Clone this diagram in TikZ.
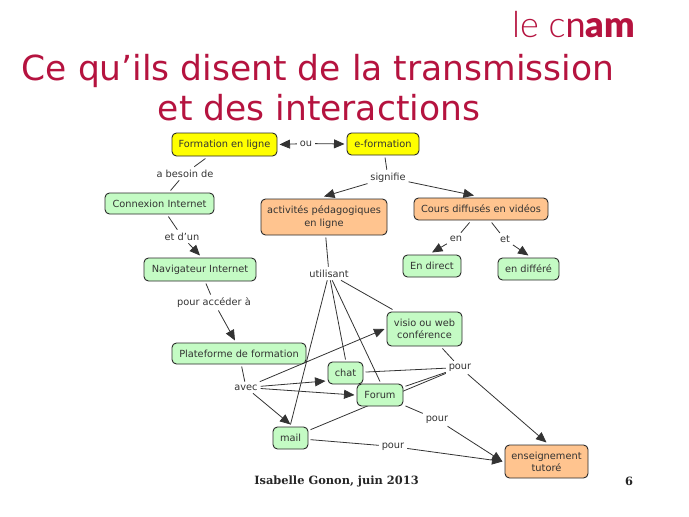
\documentclass[tikz,border=0pt]{standalone}
\usepackage{fontspec}
\setmainfont{DejaVu Sans}
\newfontfamily\footfont{DejaVu Serif}
\newfontfamily\logofont{Lato}
\newfontfamily\logolight{Lato Light}
\newfontfamily\logoblack{Lato Black}
\usetikzlibrary{arrows.meta,calc}
\pgfdeclarelayer{edges}
\pgfsetlayers{edges,main}
\definecolor{cnam}{HTML}{B5133F}
\definecolor{ink}{HTML}{333333}
\definecolor{cyel}{HTML}{FFFF00}
\definecolor{cgrn}{HTML}{C4FBC4}
\definecolor{corg}{HTML}{FFC48F}
\tikzset{
  cbox/.style 2 args={draw=ink!80!black,line width=0.9pt,rounded corners=4.5pt,minimum width=#1,minimum height=#2,inner sep=0pt,outer sep=2.5pt,align=center,font=\fontsize{9.8}{12.2}\selectfont,text=ink},
  yel/.style={fill=cyel},grn/.style={fill=cgrn},org/.style={fill=corg},
  lab/.style={inner sep=1.5pt,outer sep=1.5pt,font=\fontsize{9.8}{11}\selectfont,text=ink},
  plain/.style={draw=ink,line width=0.8pt},
  arr/.style={draw=ink,line width=0.8pt,-{Triangle[length=10.5pt,width=9pt]}},
  titletext/.style={inner sep=0pt,text=cnam,font=\fontsize{34.5}{34.5}\selectfont},
  foot/.style={inner sep=0pt,font=\footfont\bfseries\fontsize{11.4}{13}\selectfont,text=black!85}
}
\begin{document}
\begin{tikzpicture}[x=1pt,y=-1pt]
\useasboundingbox (0,0) rectangle (689,517);
% logo and title
\node[inner sep=0pt,anchor=base west,text=cnam,font=\fontsize{36}{36}\selectfont] (logo) at (512,37) {{\logolight le c}{\logofont n}{\logoblack am}};
\node[titletext,anchor=base] (t1) at (318,80) {Ce qu’ils disent de la transmission};
\node[titletext,anchor=base] (t2) at (319,120) {et des interactions};
% concepts
\node[cbox={105pt}{23pt},yel] (fl) at (224.5,144.5) {Formation en ligne};
\node[cbox={72pt}{22pt},yel] (ef) at (383,144) {e-formation};
\node[cbox={109pt}{21pt},grn] (ci) at (159.5,203.5) {Connexion Internet};
\node[cbox={112pt}{23pt},grn] (ni) at (200,269.5) {Navigateur Internet};
\node[cbox={126pt}{36pt},org] (ap) at (324,217) {activités pédagogiques\\en ligne};
\node[cbox={134pt}{22pt},org] (cd) at (481,209) {Cours diffusés en vidéos};
\node[cbox={58pt}{22pt},grn] (ed) at (432,266) {En direct};
\node[cbox={61pt}{22pt},grn] (ediff) at (528.5,269) {en différé};
\node[cbox={134pt}{21pt},grn] (pf) at (239,353.5) {Plateforme de formation};
\node[cbox={35pt}{22pt},grn] (chat) at (345.5,373) {chat};
\node[cbox={46pt}{22pt},grn] (forum) at (380,395) {Forum};
\node[cbox={35pt}{22pt},grn] (mail) at (290.5,438) {mail};
\node[cbox={75pt}{34pt},grn] (visio) at (424.5,329) {visio ou web\\conférence};
\node[cbox={83pt}{33pt},org] (ens) at (546.5,461.5) {enseignement\\tutoré};
% link labels
\node[lab] (ou) at (306,143.5) {ou};
\node[lab] (besoin) at (185,173.5) {a besoin de};
\node[lab] (etdun) at (182,236.5) {et d'un};
\node[lab] (acces) at (214,302.5) {pour accéder à};
\node[lab] (sig) at (388,177.5) {signifie};
\node[lab] (en) at (456,238.5) {en};
\node[lab] (et) at (505,239.5) {et};
\node[lab] (util) at (329,273.5) {utilisant};
\node[lab] (avec) at (246,387.5) {avec};
\node[lab] (p1) at (460,367.5) {pour};
\node[lab] (p2) at (437,419.5) {pour};
\node[lab] (p3) at (393,446.5) {pour};
% footer
\node[foot] (ft) at (336.5,481) {Isabelle Gonon, juin 2013};
\node[foot] (pg) at (629,481) {6};
% connectors
\begin{pgfonlayer}{edges}
\draw[arr] (ou) -- (fl.east);
\draw[arr] (ou) -- (ef.west);
\draw[plain] (fl) -- (besoin);
\draw[plain] (besoin) -- (ci);
\draw[plain] (ci) -- (etdun);
\draw[arr] (etdun) -- (ni.north);
\draw[plain] (ni) -- (acces);
\draw[arr] (acces) -- ($(pf.north)+(-4,0)$);
\draw[plain] (ef) -- (sig);
\draw[arr] (sig) -- (ap.north);
\draw[arr] (sig) -- ($(cd.north)+(-7,0)$);
\draw[plain] (ap) -- (util);
\draw[plain] (cd) -- (en);
\draw[arr] (en) -- (ed.north);
\draw[plain] (cd) -- (et);
\draw[arr] (et) -- (ediff.north);
\draw[plain] (util) -- (mail.north);
\draw[plain] (util) -- (chat.north);
\draw[plain] (util) -- (forum.north);
\draw[plain] (util) -- ($(visio.north west)+(8,0)$);
\draw[plain] (pf) -- (avec);
\draw[arr] (avec) -- (visio.west);
\draw[arr] (avec) -- ($(chat.west)+(0,8)$);
\draw[arr] (avec) -- (forum.west);
\draw[arr] (avec) -- (mail.north);
\draw[plain] (mail) -- (p1);
\draw[plain] (forum) -- (p1);
\draw[plain] (chat) -- (p1);
\draw[plain] (visio) -- (p1);
\draw[arr] (p1) -- (ens.north);
\draw[plain] (forum) -- (p2);
\draw[arr] (p2) -- (ens.west);
\draw[plain] (mail) -- (p3);
\draw[arr] (p3) -- (ens.west);
\end{pgfonlayer}
\end{tikzpicture}
\end{document}
